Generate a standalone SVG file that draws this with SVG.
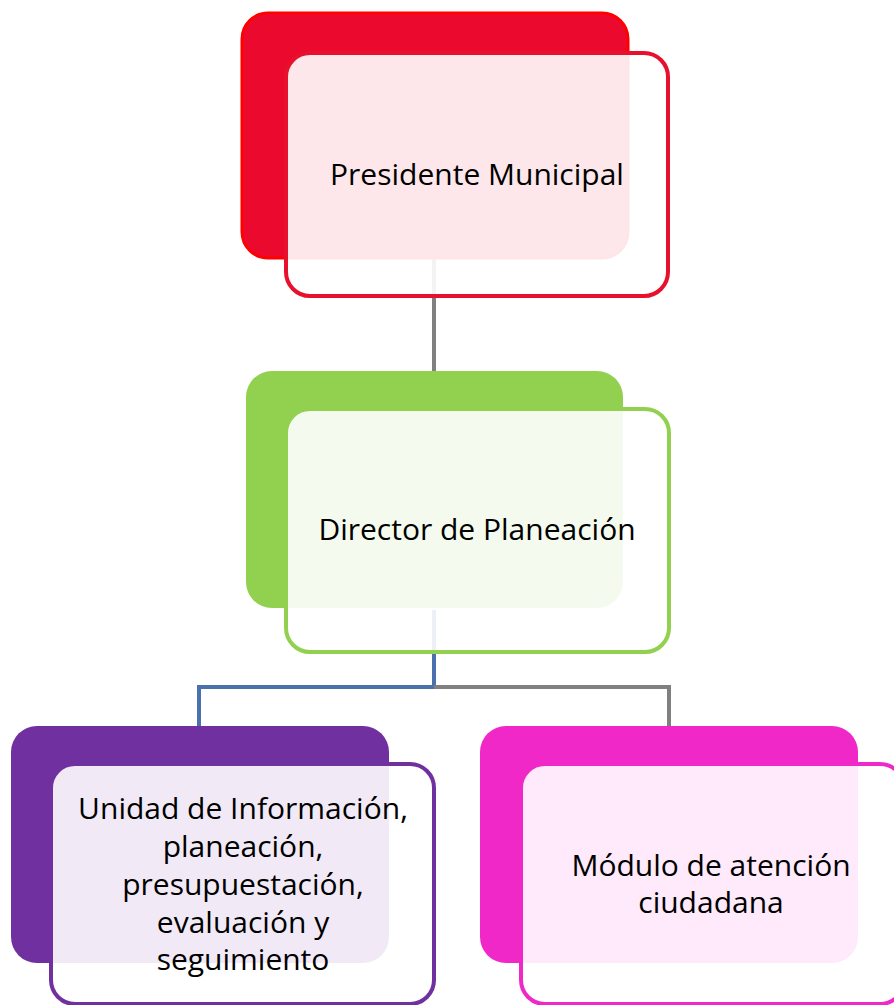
<svg xmlns="http://www.w3.org/2000/svg" width="894" height="1005" viewBox="0 0 894 1005">
<style>
.front{fill:#ffffff;fill-opacity:0.9;stroke-width:4}
.lbl{font-family:"Open Sans","Noto Sans",sans-serif;font-size:30px;fill:#000;text-anchor:middle}
.conn{fill:none;stroke-width:4}
</style>
<rect width="894" height="1005" fill="#ffffff"/>
<g id="connectors">
<line class="conn" x1="434" y1="250" x2="434" y2="372" stroke="#808080"/>
<polyline class="conn" points="434,610 434,687 199,687 199,730" stroke="#4A70AE"/>
<polyline class="conn" points="434,687 669,687 669,730" stroke="#808080"/>
</g>
<g id="node-presidente">
<rect x="242" y="13" width="386" height="245" rx="26" fill="#EB0A2E" stroke="#FF0000" stroke-width="3"/>
<rect class="front" x="286" y="53" width="382" height="243" rx="24" stroke="#E8112D"/>
<text class="lbl" x="477" y="185">Presidente Municipal</text>
</g>
<g id="node-director">
<rect x="246" y="371" width="377" height="237" rx="26" fill="#92D050"/>
<rect class="front" x="286" y="409" width="383" height="243" rx="24" stroke="#92D050"/>
<text class="lbl" x="477" y="540">Director de Planeación</text>
</g>
<g id="node-unidad">
<rect x="11" y="726" width="378" height="237" rx="26" fill="#7030A0"/>
<rect class="front" x="51" y="764" width="383" height="240" rx="24" stroke="#7030A0"/>
<text class="lbl" x="243" y="819">Unidad de Información,</text>
<text class="lbl" x="243" y="857">planeación,</text>
<text class="lbl" x="243" y="895">presupuestación,</text>
<text class="lbl" x="243" y="933">evaluación y</text>
<text class="lbl" x="243" y="970">seguimiento</text>
</g>
<g id="node-modulo">
<rect x="480" y="726" width="378" height="237" rx="26" fill="#F028C8"/>
<rect class="front" x="521" y="764" width="383" height="240" rx="24" stroke="#F028C8"/>
<text class="lbl" x="711" y="876">Módulo de atención</text>
<text class="lbl" x="711" y="913">ciudadana</text>
</g>
</svg>
